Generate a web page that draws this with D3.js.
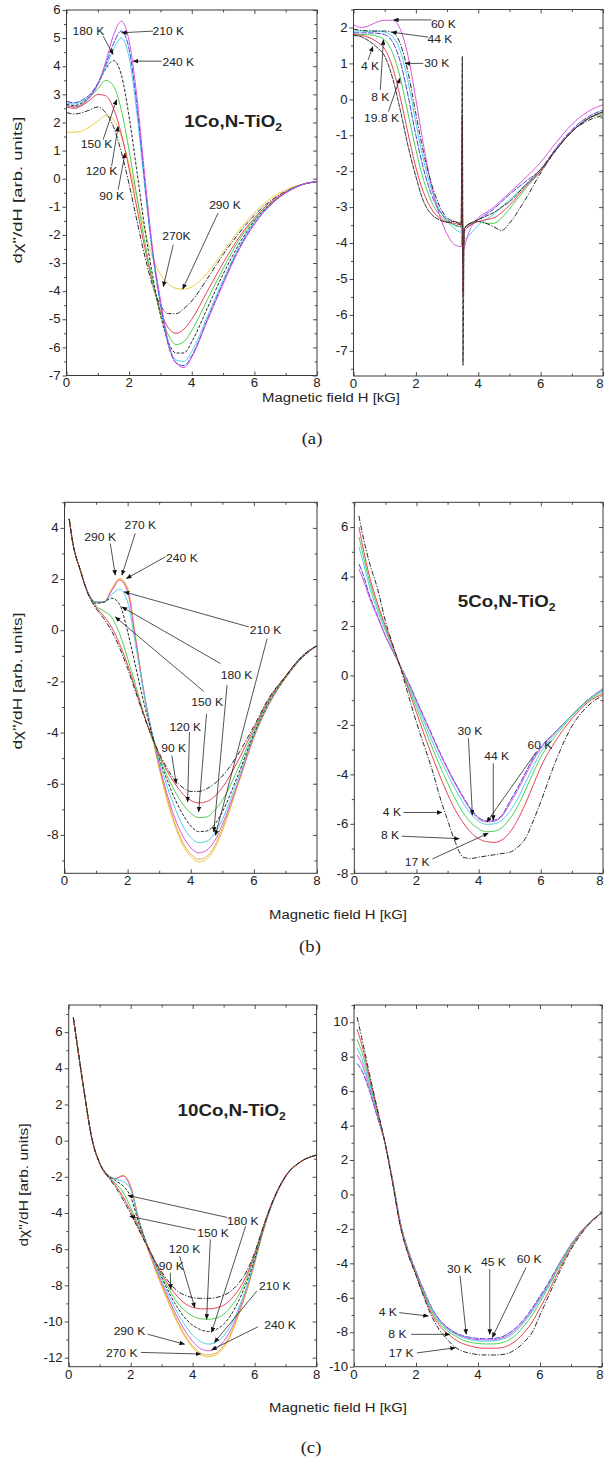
<!DOCTYPE html>
<html>
<head>
<meta charset="utf-8">
<script src="https://cdn.jsdelivr.net/npm/d3@7"></script>
<style>
  html, body { margin: 0; padding: 0; background: #fff; overflow: hidden; }
  svg { display: block; }
  text { font-family: "Liberation Sans", Arial, Helvetica, sans-serif; fill: #222; }
  .serif { font-family: "Liberation Serif", "Times New Roman", serif; }
</style>
</head>
<body>
<svg id="fig" width="605" height="1457"></svg>
<script>
// ---------- shared axis values ----------
const xTicks = [0, 2, 4, 6, 8];
const xMinor = [1, 3, 5, 7];
const yTicksA1 = [-7, -6, -5, -4, -3, -2, -1, 0, 1, 2, 3, 4, 5, 6];
const yTicksA2 = [-7, -6, -5, -4, -3, -2, -1, 0, 1, 2];
const yTicksB1 = [-8, -6, -4, -2, 0, 2, 4];
const yTicksB2 = [-8, -6, -4, -2, 0, 2, 4, 6];
const yTicksC1 = [-12, -10, -8, -6, -4, -2, 0, 2, 4, 6];
const yTicksC2 = [-10, -8, -6, -4, -2, 0, 2, 4, 6, 8, 10];

// ---------- (a) 1Co,N-TiO2, 90-290 K ----------
const fieldA1 = [0, 0.25, 0.5, 0.75, 1, 1.25, 1.5, 1.75, 2, 2.25, 2.5, 2.75, 3, 3.25, 3.5, 3.75, 4, 4.5, 5, 5.5, 6, 6.5, 7, 7.5, 8];
const a1_290K = [1.65, 1.65, 1.7, 1.85, 2.05, 2.25, 2.1, 1.5, 0.5, -0.7, -1.85, -2.8, -3.4, -3.75, -3.9, -3.93, -3.85, -3.35, -2.6, -1.85, -1.2, -0.72, -0.4, -0.2, -0.1];
const a1_270K = [2.35, 2.3, 2.35, 2.45, 2.55, 2.35, 1.85, 0.95, -0.2, -1.5, -2.75, -3.8, -4.5, -4.8, -4.8, -4.62, -4.35, -3.55, -2.7, -1.95, -1.3, -0.8, -0.45, -0.22, -0.1];
const a1_240K = [2.55, 2.5, 2.6, 2.8, 3.0, 2.95, 2.5, 1.6, 0.35, -1.05, -2.45, -3.7, -4.7, -5.3, -5.5, -5.35, -5.0, -4.0, -3.0, -2.1, -1.4, -0.85, -0.47, -0.22, -0.1];
const a1_150K = [2.6, 2.55, 2.65, 2.9, 3.2, 3.5, 3.3, 2.45, 1.0, -0.65, -2.25, -3.65, -4.8, -5.55, -5.9, -5.8, -5.4, -4.3, -3.2, -2.2, -1.45, -0.9, -0.5, -0.22, -0.1];
const a1_180K = [2.65, 2.6, 2.7, 2.95, 3.35, 3.9, 4.2, 3.7, 2.2, 0.25, -1.75, -3.45, -4.85, -5.8, -6.2, -6.2, -5.8, -4.6, -3.4, -2.35, -1.5, -0.92, -0.5, -0.22, -0.1];
const a1_120K = [2.7, 2.65, 2.75, 2.95, 3.35, 3.95, 4.6, 5.0, 4.3, 2.3, -0.3, -2.7, -4.5, -5.9, -6.45, -6.5, -6.15, -4.9, -3.6, -2.45, -1.55, -0.95, -0.5, -0.22, -0.1];
const a1_90K = [2.75, 2.7, 2.8, 3.0, 3.4, 4.05, 4.8, 5.25, 4.6, 2.6, -0.1, -2.6, -4.4, -5.9, -6.55, -6.65, -6.3, -5.0, -3.7, -2.5, -1.6, -0.95, -0.5, -0.22, -0.1];
const a1_210K = [2.6, 2.55, 2.65, 2.9, 3.35, 4.15, 5.1, 5.6, 4.9, 2.9, 0.1, -2.5, -4.3, -5.8, -6.55, -6.72, -6.35, -5.05, -3.75, -2.55, -1.62, -0.95, -0.5, -0.22, -0.1];

// ---------- (a) 1Co,N-TiO2, 4-60 K (narrow line near 3.5 kG) ----------
const fieldA2 = [0, 0.25, 0.5, 0.75, 1, 1.25, 1.5, 1.75, 2, 2.25, 2.5, 2.75, 3, 3.25, 3.45, 3.49, 3.51, 3.55, 3.75, 4, 4.25, 4.5, 4.75, 5, 5.5, 6, 6.5, 7, 7.5, 8];
const a2_4K = [1.78, 1.74, 1.62, 1.45, 1.2, 0.6, -0.3, -1.3, -2.15, -2.85, -3.2, -3.35, -3.42, -3.4, -3.5, 1.2, -7.4, -3.6, -3.45, -3.35, -3.25, -3.15, -3.0, -2.85, -2.4, -1.95, -1.4, -0.9, -0.55, -0.35];
const a2_8K = [1.8, 1.78, 1.72, 1.6, 1.4, 0.9, 0.05, -0.95, -1.9, -2.6, -3.05, -3.3, -3.42, -3.45, -3.5, -0.5, -5.4, -3.6, -3.5, -3.4, -3.35, -3.3, -3.15, -2.95, -2.45, -2.0, -1.4, -0.9, -0.55, -0.35];
const a2_19K = [1.82, 1.8, 1.8, 1.76, 1.65, 1.3, 0.6, -0.4, -1.4, -2.25, -2.85, -3.2, -3.4, -3.5, -3.55, -2.5, -4.6, -3.6, -3.45, -3.4, -3.45, -3.45, -3.3, -3.05, -2.5, -2.0, -1.4, -0.9, -0.55, -0.4];
const a2_30K = [1.85, 1.85, 1.85, 1.84, 1.8, 1.6, 1.05, 0.1, -1.0, -1.95, -2.65, -3.1, -3.35, -3.5, -3.55, -3.0, -4.3, -3.7, -3.5, -3.35, -3.2, -3.05, -2.85, -2.65, -2.3, -1.95, -1.35, -0.85, -0.5, -0.3];
const a2_36K = [1.9, 1.9, 1.9, 1.9, 1.87, 1.75, 1.35, 0.5, -0.65, -1.7, -2.5, -3.05, -3.4, -3.6, -3.7, -3.2, -4.1, -3.95, -3.75, -3.5, -3.35, -3.2, -3.0, -2.8, -2.4, -2.0, -1.4, -0.9, -0.55, -0.35];
const a2_44K = [1.95, 1.92, 1.9, 1.9, 1.9, 1.86, 1.55, 0.75, -0.4, -1.5, -2.35, -2.95, -3.3, -3.4, -3.45, -3.0, -4.5, -3.6, -3.45, -3.4, -3.45, -3.55, -3.65, -3.45, -2.8, -2.05, -1.4, -0.9, -0.6, -0.45];
const a2_60K = [2.08, 2.0, 2.05, 2.15, 2.2, 2.2, 1.95, 1.2, 0.0, -1.3, -2.4, -3.2, -3.75, -4.05, -4.1, -3.5, -4.2, -4.1, -3.6, -3.3, -3.15, -3.0, -2.8, -2.6, -2.2, -1.75, -1.2, -0.7, -0.35, -0.15];

// ---------- (b) 5Co,N-TiO2, 90-290 K ----------
const fieldB1 = [0.15, 0.25, 0.5, 0.75, 1, 1.25, 1.5, 1.75, 2, 2.25, 2.5, 2.75, 3, 3.25, 3.5, 3.75, 4, 4.25, 4.5, 4.75, 5, 5.5, 6, 6.5, 7, 7.5, 8];
const b1_90K = [4.35, 3.5, 2.35, 1.4, 0.85, 0.45, -0.05, -0.7, -1.5, -2.4, -3.3, -4.1, -4.8, -5.4, -5.85, -6.15, -6.3, -6.3, -6.2, -6.0, -5.7, -4.85, -3.75, -2.6, -1.8, -1.05, -0.6];
const b1_120K = [4.35, 3.5, 2.35, 1.42, 0.9, 0.55, 0.1, -0.55, -1.35, -2.3, -3.25, -4.1, -4.85, -5.5, -6.0, -6.4, -6.65, -6.75, -6.7, -6.5, -6.15, -5.1, -3.85, -2.65, -1.8, -1.05, -0.6];
const b1_150K = [4.35, 3.5, 2.35, 1.44, 0.95, 0.75, 0.5, -0.15, -1.1, -2.15, -3.2, -4.15, -4.95, -5.7, -6.3, -6.8, -7.15, -7.32, -7.3, -7.05, -6.65, -5.4, -3.95, -2.7, -1.82, -1.05, -0.6];
const b1_180K = [4.35, 3.5, 2.35, 1.45, 1.05, 1.1, 1.25, 1.0, -0.05, -1.4, -2.75, -3.95, -5.0, -5.85, -6.6, -7.2, -7.65, -7.87, -7.85, -7.6, -7.1, -5.65, -4.05, -2.75, -1.85, -1.1, -0.6];
const b1_210K = [4.35, 3.5, 2.35, 1.45, 1.1, 1.1, 1.4, 1.6, 1.1, -0.55, -2.35, -3.85, -5.1, -6.1, -6.95, -7.65, -8.1, -8.3, -8.25, -7.95, -7.4, -5.8, -4.1, -2.8, -1.85, -1.1, -0.6];
const b1_240K = [4.35, 3.5, 2.35, 1.45, 1.1, 1.1, 1.55, 1.95, 1.5, -0.35, -2.3, -3.9, -5.25, -6.4, -7.35, -8.05, -8.5, -8.7, -8.6, -8.25, -7.6, -5.95, -4.15, -2.82, -1.85, -1.1, -0.6];
const b1_270K = [4.35, 3.5, 2.35, 1.45, 1.1, 1.1, 1.6, 2.0, 1.6, -0.3, -2.35, -3.95, -5.35, -6.55, -7.55, -8.3, -8.75, -8.95, -8.85, -8.45, -7.75, -6.0, -4.2, -2.85, -1.88, -1.1, -0.6];
const b1_290K = [4.35, 3.5, 2.35, 1.45, 1.1, 1.1, 1.62, 2.02, 1.65, -0.2, -2.3, -3.95, -5.4, -6.65, -7.65, -8.4, -8.85, -9.05, -8.95, -8.55, -7.85, -6.05, -4.2, -2.85, -1.88, -1.1, -0.6];

// ---------- (b) 5Co,N-TiO2, 4-60 K ----------
const fieldB2 = [0.15, 0.25, 0.5, 0.75, 1, 1.25, 1.5, 1.75, 2, 2.25, 2.5, 2.75, 3, 3.25, 3.5, 3.75, 4, 4.25, 4.5, 4.75, 5, 5.25, 5.5, 5.75, 6, 6.5, 7, 7.5, 8];
const b2_17K = [6.45, 5.8, 4.5, 3.5, 2.2, 1.2, 0.25, -0.85, -1.9, -2.85, -3.8, -4.9, -5.85, -6.75, -7.35, -7.4, -7.35, -7.3, -7.25, -7.2, -7.15, -6.95, -6.6, -5.9, -5.1, -3.4, -2.05, -1.25, -0.8];
const b2_8K = [6.0, 5.35, 3.95, 2.9, 2.0, 1.15, 0.28, -0.6, -1.5, -2.4, -3.25, -4.05, -4.8, -5.45, -5.95, -6.35, -6.6, -6.72, -6.75, -6.65, -6.35, -5.85, -5.2, -4.45, -3.7, -2.6, -1.75, -1.1, -0.75];
const b2_4K = [5.6, 5.05, 3.75, 2.75, 1.9, 1.1, 0.3, -0.5, -1.3, -2.1, -2.9, -3.65, -4.35, -5.0, -5.55, -5.95, -6.2, -6.32, -6.3, -6.15, -5.8, -5.3, -4.65, -3.95, -3.3, -2.4, -1.65, -1.05, -0.65];
const b2_30K = [5.2, 4.75, 3.55, 2.6, 1.8, 1.05, 0.3, -0.4, -1.15, -1.9, -2.65, -3.35, -4.0, -4.6, -5.15, -5.6, -5.9, -6.02, -6.0, -5.85, -5.5, -5.0, -4.35, -3.7, -3.1, -2.3, -1.6, -1.0, -0.6];
const b2_44K = [4.3, 4.0, 3.1, 2.35, 1.6, 0.95, 0.3, -0.35, -1.05, -1.75, -2.45, -3.15, -3.8, -4.4, -4.95, -5.45, -5.8, -5.92, -5.9, -5.7, -5.2, -4.65, -4.05, -3.45, -2.95, -2.25, -1.6, -1.0, -0.55];
const b2_60K = [4.5, 4.2, 3.2, 2.4, 1.6, 0.95, 0.35, -0.3, -1.0, -1.7, -2.4, -3.1, -3.75, -4.35, -4.9, -5.4, -5.75, -5.88, -5.85, -5.65, -5.1, -4.55, -3.95, -3.35, -2.9, -2.25, -1.6, -1.0, -0.55];

// ---------- (c) 10Co,N-TiO2, 90-290 K ----------
const fieldC1 = [0.15, 0.25, 0.5, 0.75, 1, 1.25, 1.5, 1.75, 2, 2.25, 2.5, 2.75, 3, 3.25, 3.5, 3.75, 4, 4.25, 4.5, 4.75, 5, 5.25, 5.5, 5.75, 6, 6.25, 6.5, 7, 7.5, 8];
const c1_90K = [6.8, 5.6, 2.7, 0.1, -1.25, -1.95, -2.55, -3.25, -4.05, -4.9, -5.75, -6.55, -7.25, -7.85, -8.3, -8.55, -8.68, -8.72, -8.72, -8.68, -8.55, -8.3, -7.85, -7.2, -6.2, -4.9, -3.7, -1.95, -1.15, -0.8];
const c1_120K = [6.8, 5.6, 2.7, 0.1, -1.25, -1.93, -2.45, -3.1, -3.9, -4.8, -5.7, -6.55, -7.35, -8.05, -8.6, -9.0, -9.22, -9.3, -9.3, -9.25, -9.1, -8.75, -8.2, -7.4, -6.3, -4.95, -3.7, -1.95, -1.15, -0.8];
const c1_150K = [6.8, 5.6, 2.7, 0.1, -1.25, -1.9, -2.35, -2.85, -3.7, -4.7, -5.65, -6.55, -7.45, -8.25, -8.95, -9.4, -9.7, -9.85, -9.88, -9.82, -9.6, -9.15, -8.5, -7.6, -6.4, -5.0, -3.72, -1.97, -1.15, -0.8];
const c1_180K = [6.8, 5.6, 2.7, 0.1, -1.25, -1.88, -2.2, -2.5, -3.1, -4.5, -5.6, -6.6, -7.55, -8.45, -9.2, -9.8, -10.2, -10.45, -10.55, -10.45, -10.15, -9.6, -8.8, -7.8, -6.55, -5.05, -3.75, -1.98, -1.15, -0.8];
const c1_210K = [6.8, 5.6, 2.7, 0.1, -1.25, -1.87, -2.12, -2.25, -2.7, -4.35, -5.6, -6.7, -7.7, -8.65, -9.5, -10.2, -10.75, -11.1, -11.25, -11.15, -10.8, -10.15, -9.2, -8.05, -6.65, -5.1, -3.78, -2.0, -1.15, -0.8];
const c1_240K = [6.8, 5.6, 2.7, 0.1, -1.25, -1.95, -2.1, -1.95, -2.6, -4.3, -5.65, -6.8, -7.85, -8.85, -9.75, -10.5, -11.1, -11.5, -11.62, -11.5, -11.1, -10.4, -9.35, -8.15, -6.7, -5.12, -3.8, -2.0, -1.15, -0.8];
const c1_270K = [6.8, 5.6, 2.7, 0.1, -1.25, -1.95, -2.1, -1.95, -2.55, -4.3, -5.7, -6.9, -8.0, -9.0, -9.95, -10.75, -11.35, -11.75, -11.85, -11.75, -11.35, -10.6, -9.5, -8.25, -6.75, -5.15, -3.8, -2.0, -1.15, -0.8];
const c1_290K = [6.8, 5.6, 2.7, 0.1, -1.25, -1.95, -2.08, -1.92, -2.5, -4.25, -5.7, -6.95, -8.05, -9.1, -10.05, -10.85, -11.45, -11.85, -11.95, -11.85, -11.45, -10.7, -9.55, -8.3, -6.8, -5.18, -3.82, -2.0, -1.15, -0.8];

// ---------- (c) 10Co,N-TiO2, 4-60 K ----------
const fieldC2 = [0.1, 0.25, 0.5, 0.75, 1, 1.25, 1.5, 1.75, 2, 2.25, 2.5, 2.75, 3, 3.25, 3.5, 3.75, 4, 4.25, 4.5, 4.75, 5, 5.25, 5.5, 5.75, 6, 6.25, 6.5, 7, 7.5, 8];
const c2_17K = [10.3, 9.1, 7.0, 5.0, 3.0, 0.6, -1.9, -3.5, -4.7, -5.95, -7.05, -7.85, -8.4, -8.85, -9.1, -9.22, -9.3, -9.32, -9.32, -9.3, -9.2, -8.95, -8.55, -8.0, -7.0, -6.0, -5.0, -3.2, -1.9, -1.05];
const c2_8K = [9.6, 8.7, 6.8, 4.9, 3.0, 0.65, -1.85, -3.45, -4.65, -5.85, -6.9, -7.6, -8.05, -8.4, -8.65, -8.8, -8.9, -8.93, -8.93, -8.9, -8.75, -8.45, -8.0, -7.4, -6.6, -5.75, -4.8, -3.1, -1.85, -1.05];
const c2_4K = [9.0, 8.3, 6.6, 4.8, 3.0, 0.7, -1.8, -3.4, -4.6, -5.75, -6.75, -7.45, -7.9, -8.2, -8.45, -8.58, -8.65, -8.68, -8.68, -8.62, -8.45, -8.1, -7.6, -7.0, -6.25, -5.45, -4.6, -3.0, -1.85, -1.05];
const c2_30K = [8.5, 7.9, 6.4, 4.7, 3.0, 0.75, -1.75, -3.35, -4.55, -5.65, -6.65, -7.35, -7.8, -8.1, -8.3, -8.43, -8.5, -8.52, -8.5, -8.42, -8.25, -7.9, -7.4, -6.8, -6.1, -5.35, -4.5, -2.95, -1.82, -1.05];
const c2_45K = [8.1, 7.6, 6.2, 4.6, 3.0, 0.75, -1.7, -3.3, -4.5, -5.6, -6.6, -7.3, -7.75, -8.05, -8.25, -8.37, -8.43, -8.45, -8.43, -8.35, -8.15, -7.8, -7.3, -6.7, -6.0, -5.3, -4.45, -2.92, -1.8, -1.05];
const c2_60K = [7.6, 7.2, 6.0, 4.5, 3.0, 0.8, -1.65, -3.25, -4.45, -5.55, -6.55, -7.25, -7.7, -8.0, -8.2, -8.3, -8.36, -8.38, -8.36, -8.28, -8.05, -7.7, -7.2, -6.6, -5.9, -5.2, -4.4, -2.9, -1.8, -1.05];

// ---------- temperature call-outs: text centre [H, value], arrows [fromH, fromV, toH, toV] ----------
const notesA1 = [
  { t: "180 K", at: [0.70, 5.25], arrows: [[1.17, 5.07, 1.49, 4.42]] },
  { t: "210 K", at: [3.25, 5.25], arrows: [[2.77, 5.25, 1.76, 5.19]] },
  { t: "240 K", at: [3.57, 4.14], arrows: [[3.04, 4.18, 2.13, 4.18]] },
  { t: "150 K", at: [0.96, 1.21], arrows: [[1.17, 1.39, 1.6, 2.81]] },
  { t: "120 K", at: [1.12, 0.26], arrows: [[1.44, 0.44, 1.65, 1.86]] },
  { t: "90 K", at: [1.44, -0.63], arrows: [[1.65, -0.39, 1.87, 0.91]] },
  { t: "270K", at: [3.51, -2.05], arrows: [[3.41, -2.35, 3.09, -3.84]] },
  { t: "290 K", at: [5.06, -0.93], arrows: [[4.84, -1.22, 3.71, -3.93]] }
];
const notesA2 = [
  { t: "60 K", at: [2.88, 2.1], arrows: [[2.5, 2.21, 1.28, 2.21]] },
  { t: "44 K", at: [2.77, 1.66], arrows: [[2.4, 1.73, 1.22, 1.87]] },
  { t: "30 K", at: [2.67, 1.0], arrows: [[2.24, 1.0, 1.65, 1.0]] },
  { t: "4 K", at: [0.53, 0.91], arrows: [[0.47, 1.1, 0.62, 1.47]] },
  { t: "8 K", at: [0.86, 0.07], arrows: [[0.86, 0.26, 0.96, 1.66]] },
  { t: "19.8 K", at: [0.9, -0.53], arrows: [[1.12, -0.34, 1.49, 0.59]] }
];
const notesB1 = [
  { t: "290 K", at: [1.13, 3.65], arrows: [[1.45, 3.39, 1.61, 2.15]] },
  { t: "270 K", at: [2.4, 4.1], arrows: [[2.24, 3.78, 1.82, 2.15]] },
  { t: "240 K", at: [3.72, 2.83], arrows: [[3.2, 2.87, 1.96, 2.02]] },
  { t: "210 K", at: [6.37, 0.0], arrows: [[5.84, 0.13, 1.89, 1.5], [6.42, -0.33, 4.78, -8.02]] },
  { t: "180 K", at: [5.45, -1.76], arrows: [[4.94, -1.3, 1.82, 0.91], [5.15, -2.15, 4.73, -7.89]] },
  { t: "150 K", at: [4.52, -2.8], arrows: [[4.41, -2.39, 1.61, 0.52], [4.5, -3.26, 4.25, -7.1]] },
  { t: "120 K", at: [3.83, -3.78], arrows: [[3.96, -3.98, 3.9, -6.71]] },
  { t: "90 K", at: [3.46, -4.6], arrows: [[3.4, -4.9, 3.54, -6.0]] }
];
const notesB2 = [
  { t: "30 K", at: [3.72, -2.26], arrows: [[3.67, -2.54, 3.8, -5.65]] },
  { t: "44 K", at: [4.58, -3.28], arrows: [[4.47, -3.55, 4.47, -5.86]] },
  { t: "60 K", at: [5.97, -2.81], arrows: [[5.86, -3.08, 4.26, -5.93]] },
  { t: "4 K", at: [1.21, -5.54], arrows: [[1.58, -5.54, 2.82, -5.54]] },
  { t: "8 K", at: [1.15, -6.46], arrows: [[1.52, -6.5, 3.38, -6.6]] },
  { t: "17 K", at: [2.02, -7.55], arrows: [[2.51, -7.42, 4.31, -6.38]] }
];
const notesC1 = [
  { t: "180 K", at: [5.62, -4.46], arrows: [[5.12, -4.25, 1.91, -3.03], [5.71, -4.73, 4.61, -10.6]] },
  { t: "150 K", at: [4.66, -5.14], arrows: [[4.1, -4.95, 1.97, -4.18], [4.57, -5.47, 4.45, -9.88]] },
  { t: "120 K", at: [3.74, -6.02], arrows: [[3.58, -6.39, 4.07, -9.24]] },
  { t: "90 K", at: [3.31, -6.94], arrows: [[3.28, -7.3, 3.29, -8.22]] },
  { t: "210 K", at: [6.65, -8.04], arrows: [[6.07, -8.32, 4.7, -11.16]] },
  { t: "240 K", at: [6.82, -10.21], arrows: [[6.1, -10.3, 4.61, -11.57]] },
  { t: "290 K", at: [1.96, -10.56], arrows: [[2.54, -10.7, 3.74, -11.26]] },
  { t: "270 K", at: [1.71, -11.77], arrows: [[2.33, -11.71, 4.26, -11.8]] }
];
const notesC2 = [
  { t: "30 K", at: [3.4, -4.34], arrows: [[3.42, -4.72, 3.62, -8.12]] },
  { t: "45 K", at: [4.5, -3.95], arrows: [[4.38, -4.34, 4.38, -8.12]] },
  { t: "60 K", at: [5.65, -3.76], arrows: [[5.55, -4.24, 4.46, -8.31]] },
  { t: "4 K", at: [1.09, -6.82], arrows: [[1.46, -6.86, 2.4, -7.06]] },
  { t: "8 K", at: [1.4, -8.12], arrows: [[1.84, -8.12, 3.09, -8.12]] },
  { t: "17 K", at: [1.52, -9.23], arrows: [[2.03, -9.2, 3.27, -8.9]] }
];

// sample names placed inside the panels (text centre in data units)
const sampleA = { name: "1Co,N-TiO", sub: "2", at: [5.32, 2.04] };
const sampleB = { name: "5Co,N-TiO", sub: "2", at: [4.9, 3.02] };
const sampleC = { name: "10Co,N-TiO", sub: "2", at: [5.26, 1.69] };

// ---------- pens ----------
const PEN = {
  kdd: { c: "#1e1e1e", d: "5,1.6,1.2,1.6" },
  kda: { c: "#1e1e1e", d: "3,1.6" },
  kfine: { c: "#2a2a2a", d: "5,0.8" },
  red: { c: "#e8384f" },
  green: { c: "#44cc44" },
  blue: { c: "#3a3ae4", d: "6,1.2" },
  cyan: { c: "#44cde6" },
  magenta: { c: "#d64ed6" },
  yellow: { c: "#e6cc38" },
  orange: { c: "#f0a03a" }
};

const SX = 1.1;  // horizontal stretch of the lettering
const FIG_W = 605;

const PANELS = [
  { id: "a1", box: [66.5, 10, 317, 375.5], yDom: [-7, 6], yTicks: yTicksA1, field: fieldA1,
    series: [[a1_290K, "yellow"], [a1_270K, "kdd"], [a1_240K, "red"], [a1_150K, "green"], [a1_180K, "kda"],
             [a1_120K, "cyan"], [a1_90K, "blue"], [a1_210K, "magenta"]],
    notes: notesA1, sample: sampleA },
  { id: "a2", box: [353.5, 9.5, 603, 376], yDom: [-7.7, 2.5], yTicks: yTicksA2, field: fieldA2,
    series: [[a2_36K, "cyan"], [a2_30K, "blue"], [a2_19K, "green"], [a2_60K, "magenta"], [a2_44K, "kdd"],
             [a2_8K, "red"], [a2_4K, "kfine"]],
    notes: notesA2 },
  { id: "b1", box: [64.5, 502.3, 317, 873.3], yDom: [-9.5, 5], yTicks: yTicksB1, field: fieldB1,
    series: [[b1_290K, "yellow"], [b1_270K, "orange"], [b1_240K, "magenta"], [b1_210K, "cyan"],
             [b1_180K, "kda"], [b1_150K, "green"], [b1_120K, "red"], [b1_90K, "kdd"]],
    notes: notesB1 },
  { id: "b2", box: [354.3, 502.3, 603, 873.3], yDom: [-8, 7], yTicks: yTicksB2, field: fieldB2,
    series: [[b2_60K, "blue"], [b2_44K, "magenta"], [b2_30K, "cyan"], [b2_4K, "green"], [b2_8K, "red"], [b2_17K, "kdd"]],
    notes: notesB2, sample: sampleB },
  { id: "c1", box: [68.7, 1005, 316.6, 1366.7], yDom: [-12.5, 7.5], yTicks: yTicksC1, field: fieldC1,
    series: [[c1_290K, "yellow"], [c1_270K, "orange"], [c1_240K, "magenta"], [c1_210K, "cyan"],
             [c1_180K, "kda"], [c1_150K, "green"], [c1_120K, "red"], [c1_90K, "kdd"]],
    notes: notesC1, sample: sampleC },
  { id: "c2", box: [354, 1005, 602, 1366.7], yDom: [-10, 11], yTicks: yTicksC2, field: fieldC2,
    series: [[c2_60K, "blue"], [c2_45K, "magenta"], [c2_30K, "cyan"], [c2_4K, "green"], [c2_8K, "red"], [c2_17K, "kdd"]],
    notes: notesC2 }
];

// figure-level captions: x-title centre/baseline, panel tag, y-title
const ROWS = [
  { titleX: 331, titleY: 402, tag: "(a)", tagX: 312, tagY: 444, yLabX: 21.5, yLabY: 190, yLabLen: 147 },
  { titleX: 338, titleY: 919, tag: "(b)", tagX: 310, tagY: 952, yLabX: 21.5, yLabY: 681, yLabLen: 137 },
  { titleX: 338, titleY: 1412, tag: "(c)", tagX: 311, tagY: 1453, yLabX: 28, yLabY: 1185, yLabLen: 123 }
];

const svg = d3.select("#fig");
const defs = svg.append("defs");
defs.append("marker")
  .attr("id", "head")
  .attr("viewBox", "0 0 6 5")
  .attr("refX", 5.6).attr("refY", 2.5)
  .attr("markerWidth", 5.5).attr("markerHeight", 4.6)
  .attr("markerUnits", "userSpaceOnUse")
  .attr("orient", "auto")
  .append("path").attr("d", "M0,0 L6,2.5 L0,5 Z").attr("fill", "#111");

function put(g, x, y, s, size, anchor, cls) {
  return g.append("text")
    .attr("class", cls || null)
    .attr("transform", `translate(${x},${y}) scale(${SX},1)`)
    .attr("text-anchor", anchor)
    .attr("font-size", size)
    .text(s);
}

function minorBetween(ticks, dom) {
  const step = ticks[1] - ticks[0];
  const out = [];
  for (let v = ticks[0] - step / 2; v <= dom[1] + 1e-9; v += step / 2) {
    if (v >= dom[0] - 1e-9 && !ticks.some(t => Math.abs(t - v) < 1e-9)) out.push(+v.toFixed(4));
  }
  return out;
}

function drawPanel(p) {
  const [x0, y0, x1, y1] = p.box;
  const x = d3.scaleLinear().domain([0, 8]).range([x0, x1]);
  const y = d3.scaleLinear().domain(p.yDom).range([y1, y0]);
  const g = svg.append("g").attr("class", "panel-" + p.id);

  defs.append("clipPath").attr("id", "clip-" + p.id)
    .append("rect").attr("x", x0).attr("y", y0).attr("width", x1 - x0).attr("height", y1 - y0);

  // spectra
  const line = d3.line()
    .x((d, i) => x(p.field[i]))
    .y(d => y(d))
    .curve(d3.curveMonotoneX);
  const plot = g.append("g").attr("clip-path", `url(#clip-${p.id})`);
  p.series.forEach(([vals, penKey]) => {
    const pen = PEN[penKey];
    plot.append("path")
      .datum(vals)
      .attr("d", line)
      .attr("fill", "none")
      .attr("stroke", pen.c)
      .attr("stroke-width", 0.95)
      .attr("stroke-dasharray", pen.d || null)
      .attr("stroke-linejoin", "round");
  });

  // frame
  g.append("rect").attr("x", x0).attr("y", y0).attr("width", x1 - x0).attr("height", y1 - y0)
    .attr("fill", "none").attr("stroke", "#3a3a3a").attr("stroke-width", 1);

  // ticks: bottom/top/right point inward, left points outward
  const yMinor = minorBetween(p.yTicks, p.yDom);
  const tickSets = [
    [d3.axisBottom(x).tickValues(xTicks).tickSize(-4), `translate(0,${y1})`],
    [d3.axisBottom(x).tickValues(xMinor).tickSize(-2.5), `translate(0,${y1})`],
    [d3.axisTop(x).tickValues(xTicks).tickSize(-4), `translate(0,${y0})`],
    [d3.axisTop(x).tickValues(xMinor).tickSize(-2.5), `translate(0,${y0})`],
    [d3.axisLeft(y).tickValues(p.yTicks).tickSize(4), `translate(${x0},0)`],
    [d3.axisLeft(y).tickValues(yMinor).tickSize(2.5), `translate(${x0},0)`],
    [d3.axisRight(y).tickValues(p.yTicks).tickSize(-4), `translate(${x1},0)`],
    [d3.axisRight(y).tickValues(yMinor).tickSize(-2.5), `translate(${x1},0)`]
  ];
  tickSets.forEach(([ax, tr]) => {
    const a = g.append("g").attr("transform", tr).call(ax.tickFormat("").tickSizeOuter(0));
    a.select(".domain").remove();
    a.selectAll("line").attr("stroke", "#3a3a3a").attr("stroke-width", 0.9);
  });

  // tick labels (kept inside the page at the right edge)
  xTicks.forEach(v => put(g, Math.min(x(v), FIG_W - 5), y1 + 11.8, String(v), 12, "middle"));
  p.yTicks.forEach(v => put(g, x0 - 6, y(v) + 4.2, String(v), 12, "end"));

  // call-outs
  p.notes.forEach(n => {
    n.arrows.forEach(a => {
      g.append("line")
        .attr("x1", x(a[0])).attr("y1", y(a[1]))
        .attr("x2", x(a[2])).attr("y2", y(a[3]))
        .attr("stroke", "#1a1a1a").attr("stroke-width", 0.75)
        .attr("marker-end", "url(#head)");
    });
    put(g, x(n.at[0]), y(n.at[1]) + 3.8, n.t, 11, "middle");
  });

  // sample name
  if (p.sample) {
    const t = g.append("text")
      .attr("transform", `translate(${x(p.sample.at[0])},${y(p.sample.at[1]) + 6}) scale(${SX},1)`)
      .attr("text-anchor", "middle")
      .attr("font-size", 17)
      .attr("font-weight", "bold");
    t.append("tspan").text(p.sample.name);
    t.append("tspan").attr("font-size", 11).attr("dy", 4).text(p.sample.sub);
  }
}

PANELS.forEach(drawPanel);

// shared captions for each row
ROWS.forEach(r => {
  put(svg, r.titleX, r.titleY, "Magnetic field H [kG]", 13.5, "middle");
  put(svg, r.tagX, r.tagY, r.tag, 17, "middle", "serif");
  svg.append("text")
    .attr("transform", `translate(${r.yLabX},${r.yLabY}) rotate(-90)`)
    .attr("x", -r.yLabLen / 2)
    .attr("text-anchor", "start")
    .attr("font-size", 13)
    .attr("textLength", r.yLabLen)
    .attr("lengthAdjust", "spacingAndGlyphs")
    .text("d\u03C7\"/dH [arb. units]");
});
</script>
</body>
</html>
